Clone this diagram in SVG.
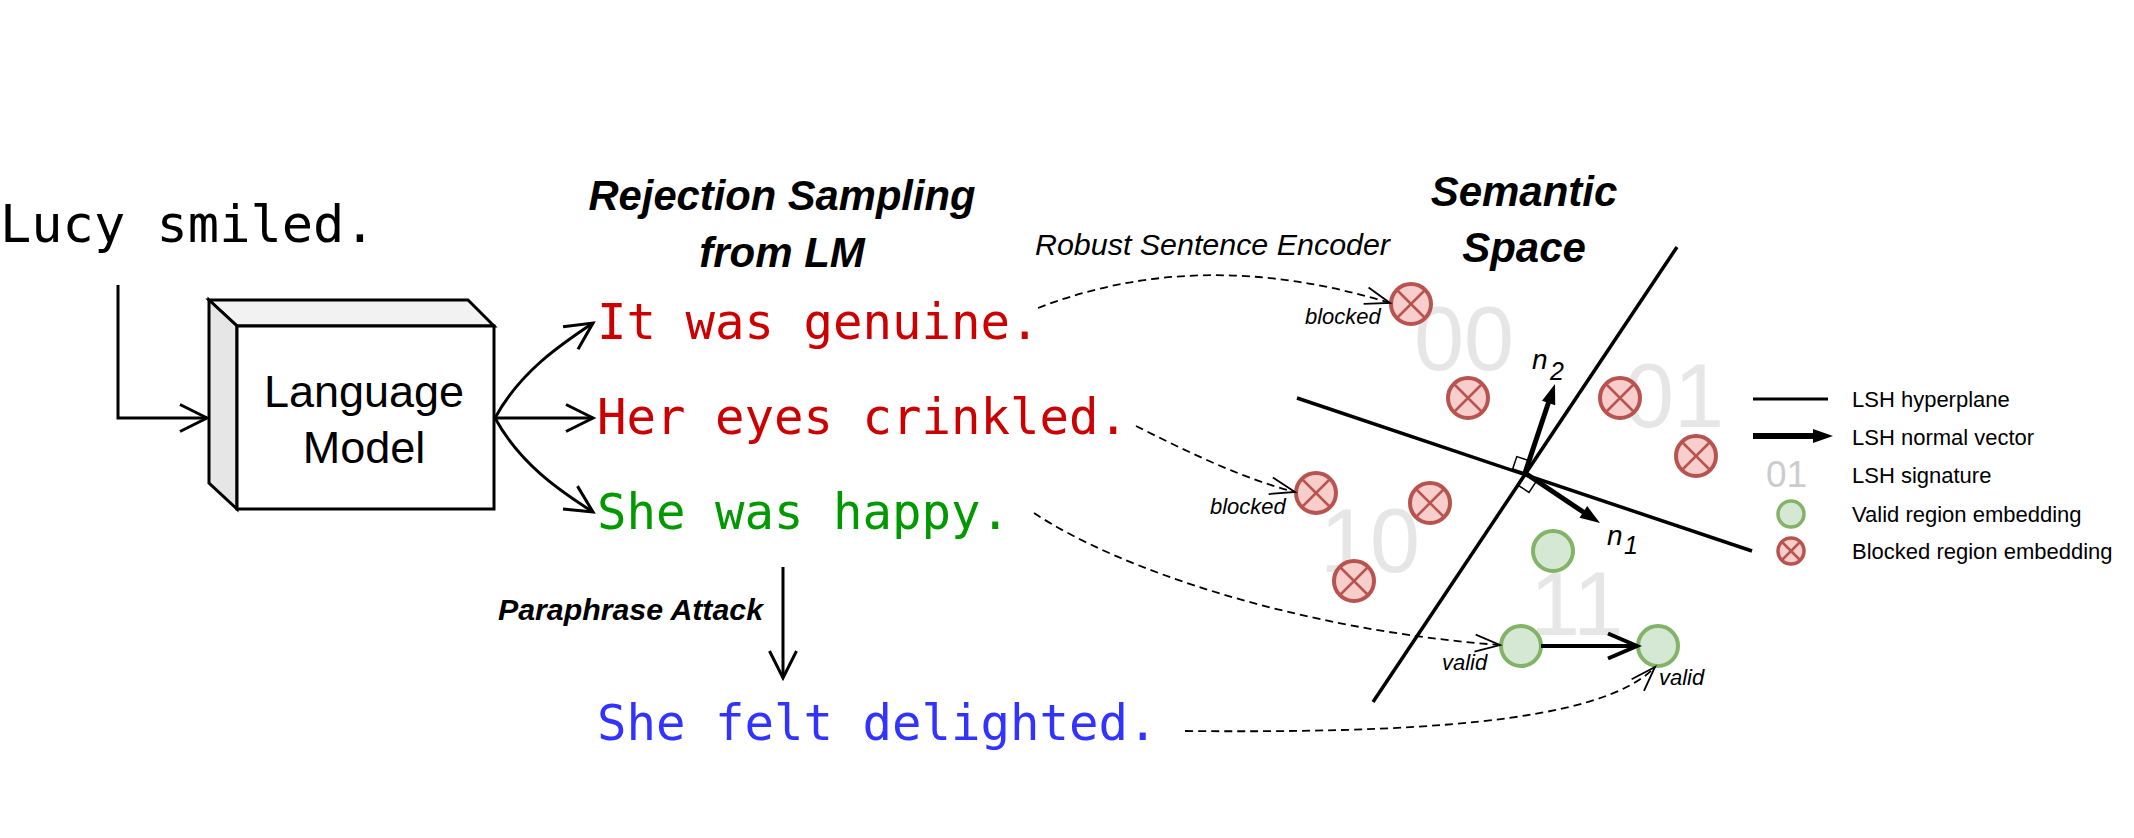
<svg xmlns="http://www.w3.org/2000/svg" xmlns:xlink="http://www.w3.org/1999/xlink" width="2134" height="838" viewBox="0 0 2134 838">
<style>
.mono{font-family:"DejaVu Sans Mono","Liberation Mono",monospace}
.sans{font-family:"Liberation Sans",Arial,sans-serif}
.title{font-family:"Liberation Sans",Arial,sans-serif;font-weight:bold;font-style:italic;font-size:42px;text-anchor:middle}
.ital{font-family:"Liberation Sans",Arial,sans-serif;font-style:italic}
.red{fill:#cc0000}
.grn{fill:#009900}
.blu{fill:#3333ff}
.sig{font-family:"Liberation Sans",Arial,sans-serif;font-size:90px;fill:#e6e6e6}
.leg{font-family:"Liberation Sans",Arial,sans-serif;font-size:22px;fill:#000}
.conn{fill:none;stroke:#000;stroke-width:3}
.dash{fill:none;stroke:#000;stroke-width:1.8;stroke-dasharray:8 5}
.hp{fill:none;stroke:#000;stroke-width:3.5;stroke-linecap:butt}
.bc{fill:#f8cecc;stroke:#b85450;stroke-width:4}
.bx{stroke:#b85450;stroke-width:2.5}
.gc{fill:#d5e8d4;stroke:#82b366;stroke-width:4}
</style>
<defs>
<marker id="arr" markerUnits="userSpaceOnUse" markerWidth="34" markerHeight="34" refX="29" refY="15" orient="auto" overflow="visible">
<path d="M2,1.5 L29,15 L2,28.5" fill="none" stroke="#000" stroke-width="3"/>
</marker>
<marker id="darr" markerUnits="userSpaceOnUse" markerWidth="30" markerHeight="20" refX="26" refY="9" orient="auto" overflow="visible">
<path d="M1,0.5 L26,9 L1,17.5" fill="none" stroke="#000" stroke-width="1.8"/>
</marker>
<marker id="garr" markerUnits="userSpaceOnUse" markerWidth="36" markerHeight="30" refX="30" refY="13" orient="auto" overflow="visible">
<path d="M1,0.5 L30,13 L1,25.5" fill="none" stroke="#000" stroke-width="4"/>
</marker>
<g id="blk">
<circle cx="0" cy="0" r="20" class="bc"/>
<line x1="-14" y1="-14" x2="14" y2="14" class="bx"/>
<line x1="-14" y1="14" x2="14" y2="-14" class="bx"/>
</g>
<g id="blks">
<circle cx="0" cy="0" r="13" fill="#f8cecc" stroke="#b85450" stroke-width="3.5"/>
<line x1="-9" y1="-9" x2="9" y2="9" class="bx" stroke-width="2"/>
<line x1="-9" y1="9" x2="9" y2="-9" class="bx" stroke-width="2"/>
</g>
</defs>
<rect width="2134" height="838" fill="#fff"/>

<g id="input">
<text class="mono" x="0" y="242" font-size="52" fill="#000">Lucy smiled.</text>
</g>

<g id="lm">
<polygon points="209,300 468,300 494,326 237,326" fill="#f2f2f2" stroke="#000" stroke-width="3" stroke-linejoin="miter"/>
<polygon points="209,300 237,326 237,509 209,483" fill="#e6e6e6" stroke="#000" stroke-width="3"/>
<rect x="237" y="326" width="257" height="183" fill="#fff" stroke="#000" stroke-width="3"/>
<text class="sans" x="364" y="407" font-size="45" text-anchor="middle">Language</text>
<text class="sans" x="364" y="463" font-size="45" text-anchor="middle">Model</text>
</g>

<g id="titles">
<text class="title" x="782" y="210" textLength="387" lengthAdjust="spacingAndGlyphs">Rejection Sampling</text>
<text class="title" x="782" y="267">from LM</text>
<text class="title" x="1524" y="206" font-size="41">Semantic</text>
<text class="title" x="1524" y="262" font-size="41">Space</text>
</g>

<g id="s1"><text class="mono red" x="597" y="339" font-size="49">It was genuine.</text></g>
<g id="s2"><text class="mono red" x="597" y="434" font-size="49">Her eyes crinkled.</text></g>
<g id="s3"><text class="mono grn" x="597" y="529" font-size="49">She was happy.</text></g>
<g id="s4"><text class="mono blu" x="597" y="740" font-size="49">She felt delighted.</text></g>

<g id="space">
<text class="sig" x="1414" y="370">00</text>
<text class="sig" x="1624" y="427">01</text>
<text class="sig" x="1320" y="572">10</text>
<text class="sig" x="1530" y="635">11</text>
<polygon points="1525,473 1512.7,468.9 1516.8,456.6 1529.2,460.7" fill="#fff" stroke="#000" stroke-width="1.5"/>
<polygon points="1525,473 1517.3,484.7 1529,492.4 1536.7,480.7" fill="#fff" stroke="#000" stroke-width="1.5"/>
<line class="hp" x1="1297" y1="398" x2="1752" y2="551"/>
<line class="hp" x1="1373" y1="702" x2="1677" y2="247"/>
<line x1="1525" y1="473" x2="1549" y2="401" stroke="#000" stroke-width="5"/>
<polygon points="1555,384 1555.2,405.2 1542,400.8" fill="#000"/>
<line x1="1525" y1="473" x2="1584" y2="512.5" stroke="#000" stroke-width="5"/>
<polygon points="1600,523 1579.5,517.7 1587.2,506.1" fill="#000"/>
<text class="ital" x="1532" y="369" font-size="28">n</text>
<text class="ital" x="1550" y="380" font-size="25">2</text>
<text class="ital" x="1607" y="545" font-size="28">n</text>
<text class="ital" x="1624" y="554" font-size="25">1</text>
</g>

<g id="b1"><use xlink:href="#blk" x="1411" y="304"/></g>
<g id="b2"><use xlink:href="#blk" x="1468" y="398"/></g>
<g id="b3"><use xlink:href="#blk" x="1620" y="398"/></g>
<g id="b4"><use xlink:href="#blk" x="1696" y="456"/></g>
<g id="b5"><use xlink:href="#blk" x="1316" y="493"/></g>
<g id="b6"><use xlink:href="#blk" x="1430" y="503"/></g>
<g id="b7"><use xlink:href="#blk" x="1354" y="581"/></g>
<g id="g1"><circle class="gc" cx="1553" cy="551" r="20"/></g>
<g id="g2"><circle class="gc" cx="1521" cy="646" r="20"/></g>
<g id="g3"><circle class="gc" cx="1658" cy="646" r="20"/></g>

<g id="connectors">
<path class="conn" d="M118,285 V418 H207" marker-end="url(#arr)"/>
<path class="conn" d="M495,418 C520,372 560,345 593,323" marker-end="url(#arr)"/>
<path class="conn" d="M495,418 H593" marker-end="url(#arr)"/>
<path class="conn" d="M495,418 C520,464 560,491 593,512" marker-end="url(#arr)"/>
<path class="conn" d="M783,567 V678" marker-end="url(#arr)"/>
<path class="dash" d="M1038,308 Q1200,245 1390,303" marker-end="url(#darr)"/>
<path class="dash" d="M1136,426 C1180,448 1240,478 1295,492" marker-end="url(#darr)"/>
<path class="dash" d="M1034,513 C1120,570 1300,630 1500,645" marker-end="url(#darr)"/>
<path class="dash" d="M1185,731 C1400,733 1600,725 1655,667" marker-end="url(#darr)"/>
<path d="M1541,646 H1637" fill="none" stroke="#000" stroke-width="4" marker-end="url(#garr)"/>
<text class="ital" x="1035" y="255" font-size="29" textLength="355" lengthAdjust="spacingAndGlyphs">Robust Sentence Encoder</text>
<text class="sans" x="498" y="620" font-size="29" font-weight="bold" font-style="italic" textLength="265" lengthAdjust="spacingAndGlyphs">Paraphrase Attack</text>
<text class="ital" x="1305" y="324" font-size="22">blocked</text>
<text class="ital" x="1210" y="514" font-size="22">blocked</text>
<text class="ital" x="1442" y="670" font-size="22">valid</text>
<text class="ital" x="1659" y="685" font-size="22">valid</text>
</g>

<g id="legend">
<line x1="1753" y1="399" x2="1828" y2="399" stroke="#000" stroke-width="3"/>
<line x1="1753" y1="436" x2="1815" y2="436" stroke="#000" stroke-width="6"/>
<polygon points="1833,436 1813,429 1813,443" fill="#000"/>
<text class="sans" x="1766" y="487" font-size="37" fill="#cccccc">01</text>
<circle cx="1791" cy="514" r="13" fill="#d5e8d4" stroke="#82b366" stroke-width="3.5"/>
<use xlink:href="#blks" x="1791" y="551"/>
<text class="leg" x="1852" y="407">LSH hyperplane</text>
<text class="leg" x="1852" y="445">LSH normal vector</text>
<text class="leg" x="1852" y="483">LSH signature</text>
<text class="leg" x="1852" y="522">Valid region embedding</text>
<text class="leg" x="1852" y="559">Blocked region embedding</text>
</g>
</svg>
